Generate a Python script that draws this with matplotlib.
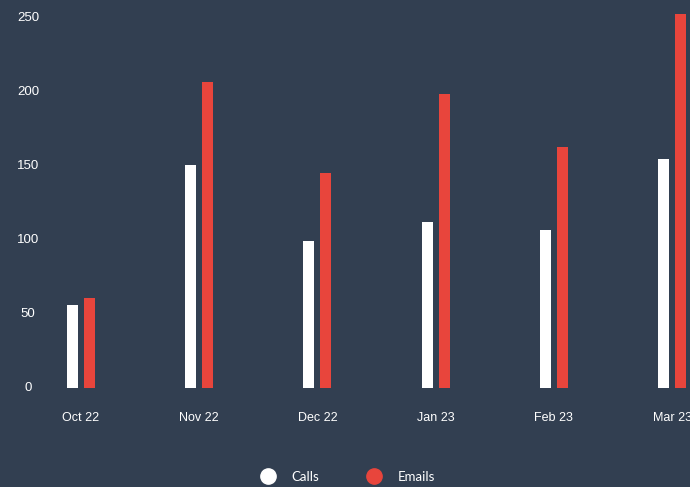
import matplotlib.pyplot as plt
import numpy as np
from matplotlib.lines import Line2D
from matplotlib.transforms import blended_transform_factory

months = ['Oct 22', 'Nov 22', 'Dec 22', 'Jan 23', 'Feb 23', 'Mar 23']
calls = [56, 151, 99, 112, 107, 155]
emails = [61, 207, 145, 199, 163, 253]
y_ticks = [0, 50, 100, 150, 200, 250]

BG = '#323f51'
RED = '#e8453c'
WHITE = '#ffffff'

plt.rcParams['font.family'] = ['Liberation Sans', 'DejaVu Sans']

fig = plt.figure(figsize=(6.9, 4.87), dpi=100, facecolor=BG)
ax = fig.add_axes([0, 0.2033, 1, 0.7967], facecolor=BG)

x = np.arange(len(months))
w = 0.093
off = 0.072
ax.bar(x - off, calls, width=w, color=WHITE)
ax.bar(x + off, emails, width=w, color=RED)

ax.set_xlim(-0.685, 5.152)
ax.set_ylim(0, 262.2)

for s in ax.spines.values():
    s.set_visible(False)

ax.set_xticks(x)
ax.set_xticklabels(months, color=WHITE, fontsize=9)
ax.tick_params(axis='x', length=0, pad=17)
ax.set_yticks([])

tr = blended_transform_factory(ax.transAxes, ax.transData)
for t in y_ticks:
    ax.text(28 / 690, t, str(t), transform=tr, ha='center', va='center',
            color=WHITE, fontsize=9.5)

handles = [
    Line2D([], [], marker='o', linestyle='none', markersize=11,
           markerfacecolor=WHITE, markeredgecolor=WHITE, label='Calls'),
    Line2D([], [], marker='o', linestyle='none', markersize=11,
           markerfacecolor=RED, markeredgecolor=RED, label='Emails'),
]
leg = fig.legend(handles=handles, loc='center', bbox_to_anchor=(0.5, 10 / 487),
                 ncol=2, frameon=False, handletextpad=0.8, columnspacing=3.2,
                 prop={'family': 'Lato', 'size': 9.5})
for txt in leg.get_texts():
    txt.set_color(WHITE)

fig.savefig('out.png', dpi=100, facecolor=BG)
